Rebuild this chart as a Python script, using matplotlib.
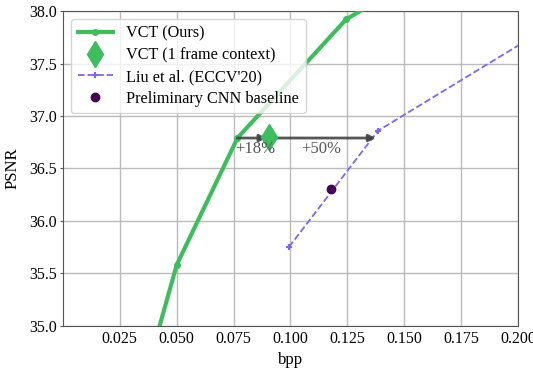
import matplotlib
matplotlib.use("Agg")
import matplotlib.pyplot as plt

plt.rcParams['font.family'] = ['Liberation Serif', 'DejaVu Serif']
plt.rcParams['mathtext.fontset'] = 'stix'

vct_bpp = [0.035, 0.050, 0.0767, 0.1244, 0.20]
vct_psnr = [34.42, 35.58, 36.79, 37.92, 38.90]

vct1_bpp = [0.0905]
vct1_psnr = [36.80]

liu_bpp = [0.0993, 0.1385, 0.25]
liu_psnr = [35.75, 36.86, 38.33]

cnn_bpp = [0.1178]
cnn_psnr = [36.30]

x_ticks = [0.025, 0.050, 0.075, 0.100, 0.125, 0.150, 0.175, 0.200]
y_ticks = [35.0, 35.5, 36.0, 36.5, 37.0, 37.5, 38.0]

arrows = [(0.0767, 0.0895, 36.79), (0.0905, 0.1375, 36.79)]
arrow_labels = ["+18%", "+50%"]
label_x = [0.0845, 0.1135]

fig = plt.figure(figsize=(5.33, 3.69), dpi=100)
ax = fig.add_axes([0.118, 0.117, 0.854, 0.853])

green = '#3dbd5d'
ax.plot(vct_bpp, vct_psnr, '-o', color=green, lw=3, ms=4, label='VCT (Ours)', zorder=3)
ax.plot(vct1_bpp, vct1_psnr, 'd', color=green, ms=13, label='VCT (1 frame context)', zorder=5)
ax.plot(liu_bpp, liu_psnr, '--+', color='#7b68ee', lw=1.3, ms=5, mew=1.5,
        label="Liu et al. (ECCV'20)", zorder=3)
ax.plot(cnn_bpp, cnn_psnr, 'o', color='#440154', ms=6, label='Preliminary CNN baseline',
        zorder=4, ls='none')

for (x0, x1, y) in arrows:
    ax.annotate('', xy=(x1, y), xytext=(x0, y),
                arrowprops=dict(arrowstyle='-|>', color='#444444', lw=2,
                                mutation_scale=10, shrinkA=0, shrinkB=0, alpha=0.9),
                zorder=4)
for lx, t in zip(label_x, arrow_labels):
    ax.text(lx, 36.69, t, ha='center', va='center', fontsize=12, color='#555555', zorder=6)

ax.set_xlim(0.0, 0.2)
ax.set_ylim(35.0, 38.0)
ax.set_xticks(x_ticks)
ax.set_yticks(y_ticks)
ax.set_xticklabels([f"{v:.3f}" for v in x_ticks])
ax.set_yticklabels([f"{v:.1f}" for v in y_ticks])
ax.tick_params(axis='x', labelsize=11.5, length=0, pad=4)
ax.tick_params(axis='y', labelsize=11.5, length=2, pad=2.5, color='#555555')
ax.grid(True, color='#bbbbbb', lw=1)
ax.set_axisbelow(True)
for s in ax.spines.values():
    s.set_color('#555555')
ax.set_xlabel('bpp', fontsize=12, labelpad=3)
ax.set_ylabel('PSNR', fontsize=12, labelpad=6)

leg = ax.legend(loc='upper left', fontsize=11.7, framealpha=0.8, handlelength=2.2,
                borderaxespad=0.5, labelspacing=0.35)

fig.savefig('out.png', dpi=100)
